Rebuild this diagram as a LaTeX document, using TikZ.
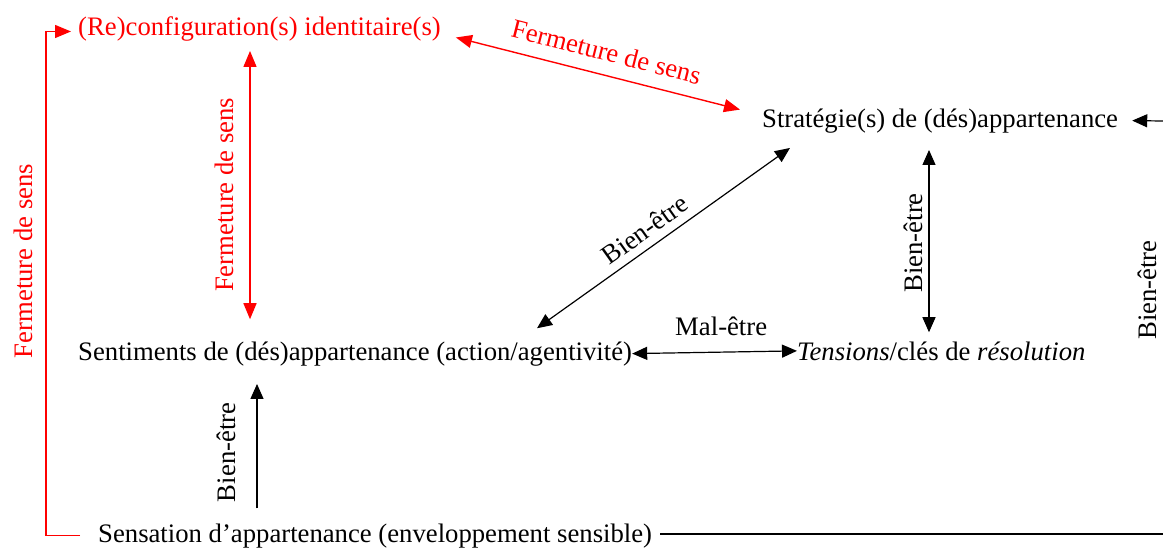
\documentclass[tikz,border=0pt]{standalone}
\usepackage{fontspec}
\setmainfont{Liberation Serif}
\usetikzlibrary{arrows.meta,calc}

\tikzset{
  txt/.style={inner sep=0pt, font=\fontsize{26.7pt}{32pt}\selectfont},
  rtxt/.style={txt, text=red},
  blk/.style={draw=black, line width=1.2pt},
  rd/.style={draw=red, line width=1.4pt},
  btip/.style={-{Triangle[length=15pt,width=13pt]}},
  bboth/.style={{Triangle[length=15pt,width=13pt]}-{Triangle[length=15pt,width=13pt]}},
  rtip/.style={-{Triangle[length=16pt,width=13pt]}},
  rboth/.style={{Triangle[length=16pt,width=13pt]}-{Triangle[length=16pt,width=13pt]}},
}

\begin{document}
\begin{tikzpicture}[x=1pt,y=1pt]
\useasboundingbox (0,0) rectangle (1163,-547);

% main concepts
\node[rtxt, anchor=base west] (reconf) at (78,-35) {(Re)configuration(s) identitaire(s)};
\node[txt, anchor=base west] (strat) at (762,-127) {Stratégie(s) de (dés)appartenance};
\node[txt, anchor=base west] (sent) at (78,-360) {Sentiments de (dés)appartenance (action/agentivité)};
\node[txt, anchor=base west] (tens) at (797,-360) {\textit{Tensions}/clés de \textit{résolution}};
\node[txt, anchor=base west] (sensa) at (98,-542) {Sensation d’appartenance (enveloppement sensible)};

% helper points
\coordinate (lx) at (46,0);
\coordinate (rtop) at (1163,-121);
\coordinate (rbot) at (1163,-534);

% red loop from the bottom back to the top
\draw[rd, rtip] ([xshift=-18pt]sensa.west) -| (lx |- {$(reconf.west)+(0,-3)$}) -- ($(reconf.west)+(-7,-3)$);
\node[rtxt, rotate=90] (lbl0) at (23,-261) {Fermeture de sens};

% red links
\draw[rd, rboth] ($(sent.north west)+(172,22)$) -- ($(reconf.south west)+(172,-10)$)
  node[rtxt, pos=0.464, sloped, above=16pt] {Fermeture de sens};
\draw[rd, rboth] ($(reconf.east)+(15,-9)$) -- ($(strat.west)+(-22,11)$)
  node[rtxt, pos=0.51, sloped, above=13pt] {Fermeture de sens};

% black links
\draw[blk, bboth] ($(sent.north west)+(459,13)$) -- ($(strat.south west)+(28,-15)$)
  node[txt, pos=0.467, sloped, above=8pt] {Bien-être};
\draw[blk, bboth] ($(tens.north west)+(132,9)$) -- ($(strat.south west)+(167,-17)$)
  node[txt, pos=0.49, sloped, above=6pt] {Bien-être};
\draw[blk, bboth] (sent.east) -- (tens.west)
  node[txt, pos=0.54, above=16pt] {Mal-être};
\draw[blk, btip] ($(sensa.north west)+(159,15)$) -- ($(sent.south west)+(179,-18)$)
  node[txt, pos=0.45, sloped, above=21pt] {Bien-être};

% links running off the right side
\draw[blk] ([xshift=8pt]sensa.east |- rbot) -- (rbot);
\draw[blk, btip] (rtop) -- ([xshift=14pt]strat.east);
\node[txt, rotate=90] (lbl1) at (1147,-290) {Bien-être};
\end{tikzpicture}
\end{document}
